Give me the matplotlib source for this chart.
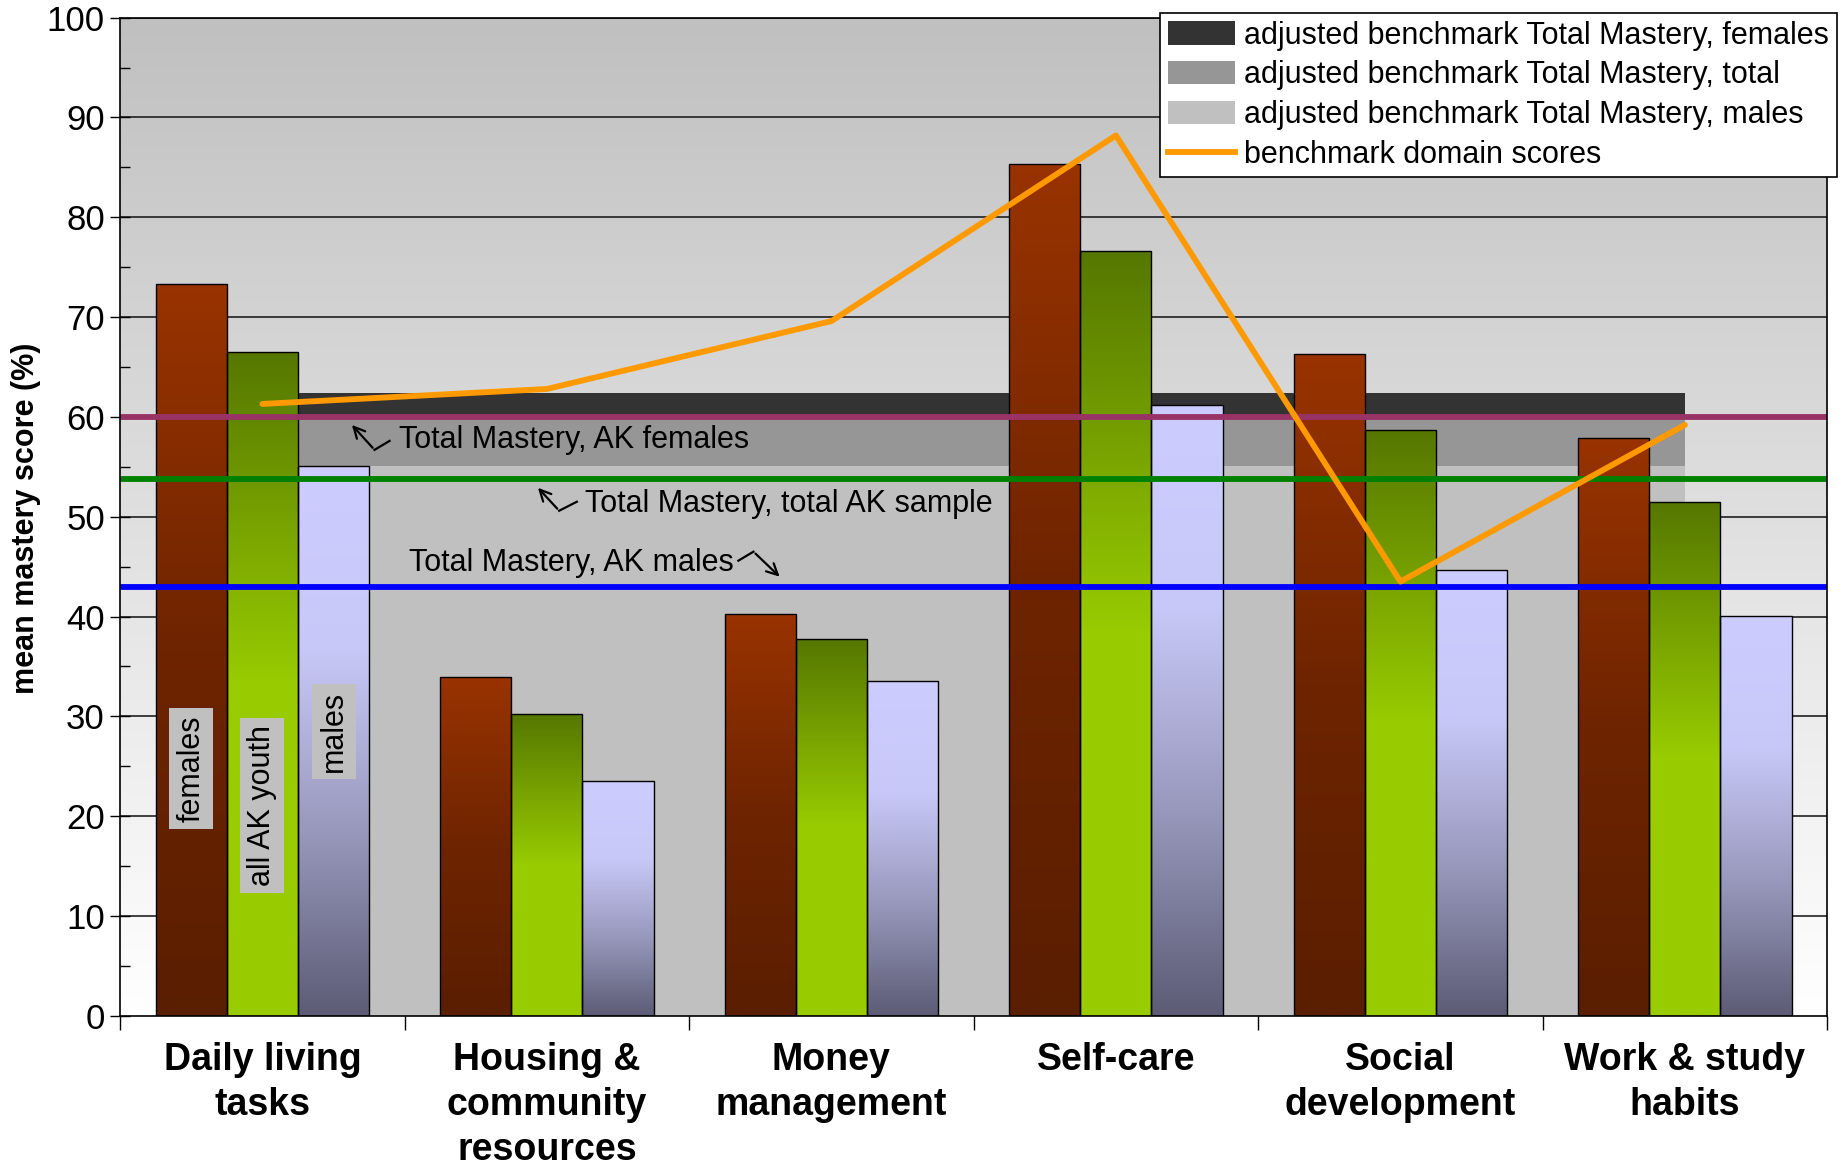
import numpy as np
import matplotlib
matplotlib.use("Agg")
import matplotlib.pyplot as plt
from matplotlib.colors import LinearSegmentedColormap
from matplotlib.patches import Patch
from matplotlib.lines import Line2D

plt.rcParams['font.family'] = ['Liberation Sans', 'DejaVu Sans']

# Domains and mean mastery scores (%)
domains = ["Daily living\ntasks", "Housing &\ncommunity\nresources", "Money\nmanagement",
           "Self-care", "Social\ndevelopment", "Work & study\nhabits"]
females = [73.3, 33.9, 40.3, 85.3, 66.3, 57.9]
all_youth = [66.5, 30.2, 37.8, 76.6, 58.7, 51.5]
males = [55.1, 23.5, 33.5, 61.2, 44.7, 40.1]
benchmark_domain = [61.3, 62.8, 69.6, 88.2, 43.5, 59.2]

# Adjusted benchmark Total Mastery (flat across domains)
adj_females = [62.4, 62.4, 62.4, 62.4, 62.4, 62.4]
adj_total = [60.0, 60.0, 60.0, 60.0, 60.0, 60.0]
adj_males = [55.1, 55.1, 55.1, 55.1, 55.1, 55.1]

# Total Mastery reference lines for the AK sample
tm_females = 60.0
tm_total = 53.8
tm_males = 43.0

fig = plt.figure(figsize=(18.46, 11.70), dpi=100)
ax = fig.add_axes([0.0651, 0.1318, 0.9247, 0.8531])

x = np.arange(len(domains))
w = 0.25

# plot area gradient, grey at top to white at the bottom
bg = LinearSegmentedColormap.from_list("bg", ["#ffffff", "#c0c0c0"])
ax.imshow(np.linspace(0, 1, 256).reshape(-1, 1), cmap=bg, origin="lower",
          extent=[-0.5, 5.5, 0, 100], aspect="auto", zorder=0)
for v in range(10, 101, 10):
    ax.axhline(v, color="#202020", lw=1.2, zorder=0.5)

# benchmark areas
ax.fill_between(x, 0, adj_females, color="#333333", lw=0, zorder=1)
ax.fill_between(x, 0, adj_total, color="#969696", lw=0, zorder=1.1)
ax.fill_between(x, 0, adj_males, color="#c0c0c0", lw=0, zorder=1.2)

cm_f = LinearSegmentedColormap.from_list("f", ["#5a1e00", "#6e2400", "#993300"])
cm_t = LinearSegmentedColormap.from_list("t", ["#99cc00", "#99cc00", "#557700"])
cm_m = LinearSegmentedColormap.from_list("m", ["#5c5c76", "#9898bc", "#c8c8f8", "#ccccff"])


def gradient_bars(xs, heights, cmap):
    grad = np.linspace(0, 1, 256).reshape(-1, 1)
    for xi, h in zip(xs, heights):
        bar = ax.bar(xi, h, width=w, facecolor="none", edgecolor="black", lw=1, zorder=2.5)[0]
        im = ax.imshow(grad, cmap=cmap, origin="lower", aspect="auto",
                       extent=[xi - w / 2, xi + w / 2, 0, h], zorder=2)
        im.set_clip_path(bar)


gradient_bars(x - w, females, cm_f)
gradient_bars(x, all_youth, cm_t)
gradient_bars(x + w, males, cm_m)

ax.axhline(tm_females, color="#993366", lw=4.2, zorder=3)
ax.axhline(tm_total, color="#008000", lw=4.2, zorder=3)
ax.axhline(tm_males, color="#0000ff", lw=4.2, zorder=3)

ax.plot(x, benchmark_domain, color="#ff9900", lw=4.2, zorder=4, solid_capstyle="round")

# series labels inside the first group
box = dict(facecolor="#c0c0c0", edgecolor="none", pad=5)
ax.text(-w, 24.8, "females", rotation=90, ha="center", va="center", fontsize=22, bbox=box, zorder=5)
ax.text(0, 21.1, "all AK youth", rotation=90, ha="center", va="center", fontsize=22, bbox=box, zorder=5)
ax.text(w, 28.5, "males", rotation=90, ha="center", va="center", fontsize=22, bbox=box, zorder=5)

# reference line notes with small bent arrows
arw = dict(arrowstyle="->", color="black", lw=1.6, mutation_scale=20)
ax.annotate("", xy=(0.308, 59.4), xytext=(0.394, 56.7), arrowprops=arw, zorder=5)
ax.plot([0.394, 0.447], [56.7, 57.6], color="black", lw=1.6, zorder=5)
ax.text(0.48, 57.7, "Total Mastery, AK females", fontsize=22, va="center", zorder=5)

ax.annotate("", xy=(0.962, 53.1), xytext=(1.043, 50.6), arrowprops=arw, zorder=5)
ax.plot([1.043, 1.105], [50.6, 51.5], color="black", lw=1.6, zorder=5)
ax.text(1.135, 51.3, "Total Mastery, total AK sample", fontsize=22, va="center", zorder=5)

ax.annotate("", xy=(1.825, 43.8), xytext=(1.726, 46.5), arrowprops=arw, zorder=5)
ax.plot([1.673, 1.726], [45.6, 46.5], color="black", lw=1.6, zorder=5)
ax.text(1.655, 45.4, "Total Mastery, AK males", fontsize=22, ha="right", va="center", zorder=5)

ax.set_xlim(-0.5, 5.5)
ax.set_ylim(0, 100)

ax.set_yticks(np.arange(0, 101, 10))
ax.set_yticks(np.arange(0, 101, 5), minor=True)
ax.tick_params(axis="y", which="major", direction="inout", length=14, width=1, labelsize=25, pad=4)
ax.tick_params(axis="y", which="minor", direction="in", length=7, width=1)

ax.set_xticks(np.arange(-0.5, 6, 1))
ax.set_xticklabels([])
ax.set_xticks(x, minor=True)
ax.set_xticklabels(domains, minor=True, fontsize=27, fontweight="bold", linespacing=1.32)
ax.tick_params(axis="x", which="major", direction="out", length=10, width=1)
ax.tick_params(axis="x", which="minor", length=0, pad=19)

for s in ax.spines.values():
    s.set_color("black")
    s.set_linewidth(1.2)
    s.set_zorder(6)

fig.text(0.014, 0.557, "mean mastery score (%)", rotation=90, ha="center", va="center",
         fontsize=22, fontweight="bold")

handles = [Patch(facecolor="#333333"), Patch(facecolor="#969696"), Patch(facecolor="#c0c0c0"),
           Line2D([], [], color="#ff9900", lw=4.2)]
labels = ["adjusted benchmark Total Mastery, females", "adjusted benchmark Total Mastery, total",
          "adjusted benchmark Total Mastery, males", "benchmark domain scores"]
leg = fig.legend(handles, labels, loc="upper right", bbox_to_anchor=(0.995, 0.989), fontsize=22,
                 frameon=True, fancybox=False, edgecolor="black", framealpha=1,
                 handlelength=2.2, handleheight=0.8, handletextpad=0.3, labelspacing=0.32,
                 borderpad=0.25, borderaxespad=0)
leg.get_frame().set_linewidth(1.2)

fig.savefig("out.png", dpi=100)
